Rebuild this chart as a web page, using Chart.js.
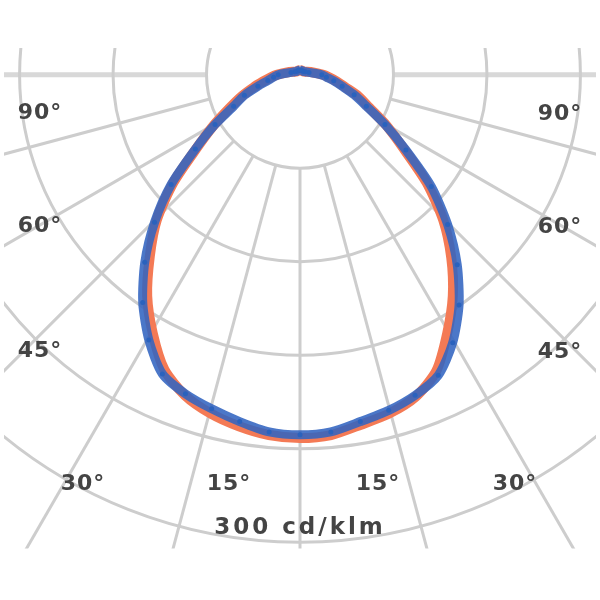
<!DOCTYPE html>
<html>
<head>
<meta charset="utf-8">
<script src="https://cdn.jsdelivr.net/npm/chart.js@4/dist/chart.umd.min.js"></script>
<style>
  html, body { margin: 0; padding: 0; background: #fff; }
  #wrap { width: 600px; height: 600px; }
</style>
</head>
<body>
<div id="wrap"><canvas id="ldc" width="600" height="600"></canvas></div>
<script>
// Polar light distribution curve (cd/klm), gamma angles 0..180
const angles = [0, 5, 10, 15, 20, 25, 30, 35, 40, 45, 50, 55, 60, 65, 70, 75, 80, 85, 90, 105, 120, 135, 150, 165, 180];

// C0 / C180 plane (orange)
const c0   = [230, 229, 225, 222, 217, 207, 189, 171, 151, 130, 106, 81, 64, 49, 40, 30, 24, 19, 15, 7, 4, 3, 3, 3, 3];
const c180 = [230, 229, 226, 222, 216, 206, 189, 171, 150, 130, 106, 81, 64, 50, 40, 31, 24, 19, 15, 7, 4, 3, 3, 3, 3];
// C90 / C270 plane (blue)
const c90  = [228, 227, 223, 220, 216, 210, 196, 178, 157, 134, 110, 83, 63, 47, 37, 28, 22, 17, 14, 6, 4, 3, 3, 3, 3];
const c270 = [228, 227, 223, 219, 215, 209, 194, 176, 155, 132, 108, 82, 63, 47, 38, 28, 21, 17, 14, 6, 4, 3, 3, 3, 3];

// grid
const ringValues = [60, 120, 180, 240, 300];
const rayAngles = [0, 15, 30, 45, 60, 75];
const unitLabel = '300 cd/klm';

// angle labels (text, pixel position inside the canvas)
const angleLabels = [
    { text: '90°', x: 40,  y: 113 },
    { text: '60°', x: 40,  y: 226 },
    { text: '45°', x: 40,  y: 351 },
    { text: '30°', x: 83,  y: 484 },
    { text: '15°', x: 229, y: 484 },
    { text: '15°', x: 378, y: 484 },
    { text: '30°', x: 515, y: 484 },
    { text: '45°', x: 560, y: 352 },
    { text: '60°', x: 560, y: 227 },
    { text: '90°', x: 560, y: 114 }
];

// build a closed loop: left half (C180/C270) from top to bottom, then right half back up
function curvePoints(rightPlane, leftPlane) {
    const pts = [];
    for (let i = angles.length - 1; i >= 0; i--) {
        const a = angles[i] * Math.PI / 180;
        pts.push({ x: -leftPlane[i] * Math.sin(a), y: -leftPlane[i] * Math.cos(a) });
    }
    for (let i = 1; i < angles.length; i++) {
        const a = angles[i] * Math.PI / 180;
        pts.push({ x: rightPlane[i] * Math.sin(a), y: -rightPlane[i] * Math.cos(a) });
    }
    return pts;
}

const ldcGrid = {
    id: 'ldcGrid',
    beforeDatasetsDraw(chart) {
        const { ctx, chartArea, scales: { x, y } } = chart;
        const cx = x.getPixelForValue(0);
        const cy = y.getPixelForValue(0);
        const unit = x.getPixelForValue(1) - cx;
        ctx.save();
        ctx.beginPath();
        ctx.rect(chartArea.left, chartArea.top, chartArea.width, chartArea.height);
        ctx.clip();

        // horizontal 90° line (a bit wider)
        const r0 = ringValues[0] * unit;
        ctx.strokeStyle = '#d8d8d8';
        ctx.lineWidth = 5;
        ctx.beginPath();
        ctx.moveTo(chartArea.left, cy);
        ctx.lineTo(cx - r0, cy);
        ctx.moveTo(cx + r0, cy);
        ctx.lineTo(chartArea.right, cy);
        ctx.stroke();

        ctx.strokeStyle = '#cdcdcd';
        ctx.lineWidth = 3;
        ringValues.forEach(v => {
            ctx.beginPath();
            ctx.arc(cx, cy, v * unit, 0, Math.PI * 2);
            ctx.stroke();
        });
        const rMax = 700;
        rayAngles.forEach(deg => {
            [-1, 1].forEach(side => {
                if (deg === 0 && side === -1) return;
                const a = deg * Math.PI / 180;
                ctx.beginPath();
                ctx.moveTo(cx + side * r0 * Math.sin(a), cy + r0 * Math.cos(a));
                ctx.lineTo(cx + side * rMax * Math.sin(a), cy + rMax * Math.cos(a));
                ctx.stroke();
            });
        });
        ctx.restore();
    },
    afterDraw(chart) {
        const { ctx } = chart;
        ctx.save();
        ctx.fillStyle = '#444';
        ctx.textAlign = 'center';
        ctx.textBaseline = 'middle';
        ctx.font = 'bold 22px "DejaVu Sans"';
        ctx.letterSpacing = '1px';
        angleLabels.forEach(l => ctx.fillText(l.text, l.x, l.y));
        ctx.font = 'bold 23px "DejaVu Sans"';
        ctx.letterSpacing = '3px';
        ctx.fillText(unitLabel, 300, 528);
        ctx.restore();
    }
};

new Chart(document.getElementById('ldc'), {
    type: 'scatter',
    data: {
        datasets: [
            {
                label: 'C90 - C270',
                data: curvePoints(c90, c270),
                showLine: true,
                borderColor: 'rgba(50, 100, 192, 0.88)',
                borderWidth: 9,
                tension: 0.25,
                pointRadius: 2.5,
                pointBackgroundColor: '#2a62bd',
                pointBorderWidth: 0
            },
            {
                label: 'C0 - C180',
                data: curvePoints(c0, c180),
                showLine: true,
                borderColor: '#f47a55',
                borderWidth: 10,
                tension: 0.25,
                pointRadius: 0
            }
        ]
    },
    options: {
        responsive: false,
        animation: false,
        layout: {
            padding: { top: 48, bottom: 51.5, left: 0, right: 0 }
        },
        scales: {
            x: { type: 'linear', min: -190, max: 190, display: false },
            y: { type: 'linear', min: -300, max: 17, display: false }
        },
        plugins: {
            legend: { display: false },
            tooltip: { enabled: false }
        }
    },
    plugins: [ldcGrid]
});
</script>
</body>
</html>
